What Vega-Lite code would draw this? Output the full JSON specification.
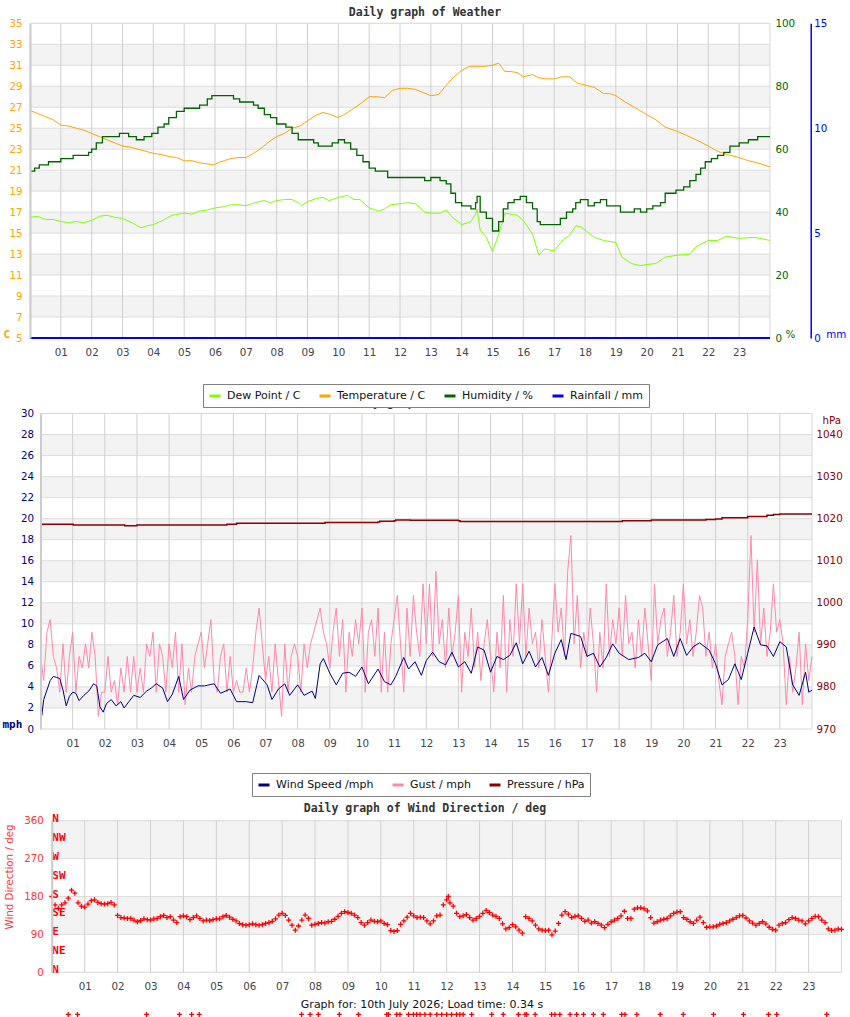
{
  "$schema": "https://vega.github.io/schema/vega-lite/v6.json",
  "width": 850,
  "height": 1017,
  "autosize": {"type": "none"},
  "padding": 0,
  "background": "#ffffff",
  "config": {
    "view": {"stroke": null},
    "axis": {"grid": false, "ticks": false, "domain": false, "labelFont": "DejaVu Sans", "labelFontSize": 10.3, "labelOverlap": false, "labelFlush": false, "titleFont": "DejaVu Sans", "titleFontSize": 10.3, "titleFontWeight": "normal", "titlePadding": 0},
    "legend": {"orient": "none", "direction": "horizontal", "strokeColor": "#808080", "fillColor": "#ffffff", "padding": 5, "symbolType": "stroke", "symbolSize": 121, "symbolStrokeWidth": 3, "labelFont": "DejaVu Sans", "labelFontSize": 11, "labelColor": "#111111", "labelOffset": 5, "columnPadding": 12, "symbolOpacity": 1}
  },
  "datasets": {
    "hours": [{"h":1},{"h":2},{"h":3},{"h":4},{"h":5},{"h":6},{"h":7},{"h":8},{"h":9},{"h":10},{"h":11},{"h":12},{"h":13},{"h":14},{"h":15},{"h":16},{"h":17},{"h":18},{"h":19},{"h":20},{"h":21},{"h":22},{"h":23}],
    "temp": [{"h":0,"v":26.7},{"h":0.25,"v":26.4},{"h":0.5,"v":26.1},{"h":0.75,"v":25.8},{"h":1,"v":25.3},{"h":1.25,"v":25.2},{"h":1.5,"v":25.0},{"h":1.75,"v":24.8},{"h":2,"v":24.5},{"h":2.25,"v":24.2},{"h":2.5,"v":23.9},{"h":2.75,"v":23.6},{"h":3,"v":23.3},{"h":3.25,"v":23.2},{"h":3.5,"v":23.0},{"h":3.75,"v":22.8},{"h":4,"v":22.6},{"h":4.25,"v":22.5},{"h":4.5,"v":22.3},{"h":4.75,"v":22.2},{"h":5,"v":21.9},{"h":5.25,"v":21.9},{"h":5.5,"v":21.7},{"h":5.75,"v":21.6},{"h":5.95,"v":21.5},{"h":6.1,"v":21.7},{"h":6.3,"v":21.9},{"h":6.5,"v":22.1},{"h":6.75,"v":22.2},{"h":7,"v":22.2},{"h":7.25,"v":22.6},{"h":7.5,"v":23.1},{"h":7.75,"v":23.7},{"h":8,"v":24.2},{"h":8.25,"v":24.5},{"h":8.5,"v":25.0},{"h":8.75,"v":25.2},{"h":9,"v":25.7},{"h":9.25,"v":26.2},{"h":9.5,"v":26.5},{"h":9.75,"v":26.3},{"h":10,"v":26.0},{"h":10.25,"v":26.4},{"h":10.5,"v":26.9},{"h":10.75,"v":27.4},{"h":11,"v":28.0},{"h":11.25,"v":28.0},{"h":11.5,"v":27.9},{"h":11.75,"v":28.6},{"h":12,"v":28.8},{"h":12.25,"v":28.8},{"h":12.5,"v":28.7},{"h":12.75,"v":28.4},{"h":13,"v":28.1},{"h":13.25,"v":28.2},{"h":13.5,"v":29.1},{"h":13.75,"v":29.9},{"h":14,"v":30.5},{"h":14.25,"v":30.9},{"h":14.5,"v":30.9},{"h":14.75,"v":30.9},{"h":15,"v":31.0},{"h":15.2,"v":31.2},{"h":15.4,"v":30.4},{"h":15.6,"v":30.4},{"h":15.8,"v":30.3},{"h":16,"v":29.9},{"h":16.3,"v":30.1},{"h":16.5,"v":29.8},{"h":16.75,"v":29.7},{"h":17,"v":29.7},{"h":17.25,"v":29.9},{"h":17.5,"v":29.9},{"h":17.75,"v":29.3},{"h":18,"v":29.1},{"h":18.3,"v":28.9},{"h":18.6,"v":28.3},{"h":18.8,"v":28.3},{"h":19,"v":28.1},{"h":19.3,"v":27.5},{"h":19.6,"v":27.0},{"h":20,"v":26.3},{"h":20.3,"v":25.8},{"h":20.6,"v":25.1},{"h":21,"v":24.7},{"h":21.3,"v":24.3},{"h":21.6,"v":23.9},{"h":22,"v":23.3},{"h":22.3,"v":22.8},{"h":22.6,"v":22.5},{"h":23,"v":22.2},{"h":23.3,"v":21.9},{"h":23.6,"v":21.7},{"h":24,"v":21.3}],
    "dew": [{"h":0,"v":16.5},{"h":0.25,"v":16.6},{"h":0.5,"v":16.3},{"h":0.75,"v":16.3},{"h":1,"v":16.1},{"h":1.25,"v":16.0},{"h":1.5,"v":16.1},{"h":1.75,"v":16.0},{"h":2,"v":16.2},{"h":2.25,"v":16.6},{"h":2.5,"v":16.7},{"h":2.75,"v":16.5},{"h":3,"v":16.4},{"h":3.3,"v":16.0},{"h":3.6,"v":15.5},{"h":3.8,"v":15.7},{"h":4,"v":15.8},{"h":4.3,"v":16.2},{"h":4.6,"v":16.7},{"h":5,"v":16.9},{"h":5.25,"v":16.8},{"h":5.5,"v":17.1},{"h":5.75,"v":17.2},{"h":6,"v":17.4},{"h":6.25,"v":17.5},{"h":6.5,"v":17.7},{"h":6.75,"v":17.7},{"h":7,"v":17.6},{"h":7.3,"v":17.9},{"h":7.6,"v":18.1},{"h":7.8,"v":17.9},{"h":8,"v":18.1},{"h":8.25,"v":18.2},{"h":8.5,"v":18.2},{"h":8.7,"v":17.9},{"h":8.8,"v":17.6},{"h":9,"v":18.0},{"h":9.3,"v":18.3},{"h":9.5,"v":18.4},{"h":9.7,"v":18.1},{"h":10,"v":18.4},{"h":10.3,"v":18.6},{"h":10.5,"v":18.2},{"h":10.7,"v":18.2},{"h":11,"v":17.4},{"h":11.3,"v":17.1},{"h":11.5,"v":17.3},{"h":11.7,"v":17.7},{"h":12,"v":17.8},{"h":12.25,"v":17.9},{"h":12.5,"v":17.8},{"h":12.8,"v":17.0},{"h":13,"v":16.9},{"h":13.3,"v":16.9},{"h":13.5,"v":17.2},{"h":13.7,"v":16.5},{"h":14,"v":15.8},{"h":14.3,"v":16.1},{"h":14.45,"v":16.8},{"h":14.5,"v":17.3},{"h":14.6,"v":15.3},{"h":14.8,"v":14.6},{"h":15,"v":13.2},{"h":15.2,"v":14.9},{"h":15.4,"v":16.9},{"h":15.6,"v":16.8},{"h":15.8,"v":16.7},{"h":16,"v":16.2},{"h":16.3,"v":14.9},{"h":16.5,"v":12.9},{"h":16.7,"v":13.5},{"h":17,"v":13.3},{"h":17.3,"v":14.4},{"h":17.5,"v":14.8},{"h":17.7,"v":15.7},{"h":17.85,"v":15.6},{"h":18,"v":15.3},{"h":18.3,"v":14.6},{"h":18.6,"v":14.3},{"h":19,"v":14.1},{"h":19.2,"v":12.7},{"h":19.5,"v":12.1},{"h":19.8,"v":11.9},{"h":20,"v":12.0},{"h":20.3,"v":12.1},{"h":20.6,"v":12.7},{"h":21,"v":12.9},{"h":21.4,"v":13.0},{"h":21.6,"v":13.7},{"h":22,"v":14.3},{"h":22.3,"v":14.3},{"h":22.6,"v":14.7},{"h":23,"v":14.5},{"h":23.5,"v":14.6},{"h":24,"v":14.3}],
    "hum": [{"h":0,"v":53},{"h":0.15,"v":54},{"h":0.3,"v":55},{"h":0.6,"v":56},{"h":1.0,"v":57},{"h":1.4,"v":58},{"h":1.9,"v":59},{"h":2.0,"v":60},{"h":2.15,"v":62},{"h":2.35,"v":64},{"h":2.9,"v":65},{"h":3.2,"v":64},{"h":3.45,"v":63},{"h":3.7,"v":64},{"h":3.95,"v":65},{"h":4.15,"v":67},{"h":4.35,"v":68},{"h":4.5,"v":70},{"h":4.75,"v":72},{"h":5.0,"v":73},{"h":5.5,"v":74},{"h":5.75,"v":76},{"h":5.9,"v":77},{"h":6.6,"v":76},{"h":6.8,"v":75},{"h":7.25,"v":74},{"h":7.4,"v":73},{"h":7.6,"v":71},{"h":7.8,"v":70},{"h":8.0,"v":68},{"h":8.3,"v":67},{"h":8.5,"v":65},{"h":8.7,"v":63},{"h":9.2,"v":62},{"h":9.35,"v":61},{"h":9.8,"v":62},{"h":10.0,"v":63},{"h":10.2,"v":62},{"h":10.4,"v":60},{"h":10.6,"v":58},{"h":10.8,"v":56},{"h":11.0,"v":54},{"h":11.2,"v":53},{"h":11.6,"v":51},{"h":12.8,"v":50},{"h":13.0,"v":51},{"h":13.3,"v":50},{"h":13.5,"v":49},{"h":13.65,"v":46},{"h":13.8,"v":43},{"h":14.0,"v":42},{"h":14.3,"v":41},{"h":14.45,"v":43},{"h":14.5,"v":45},{"h":14.6,"v":40},{"h":14.8,"v":38},{"h":15.0,"v":34},{"h":15.2,"v":37},{"h":15.35,"v":41},{"h":15.5,"v":43},{"h":15.7,"v":44},{"h":15.9,"v":45},{"h":16.1,"v":43},{"h":16.3,"v":41},{"h":16.45,"v":37},{"h":16.55,"v":36},{"h":17.2,"v":38},{"h":17.4,"v":40},{"h":17.6,"v":41},{"h":17.7,"v":43},{"h":17.85,"v":44},{"h":18.1,"v":42},{"h":18.3,"v":43},{"h":18.5,"v":44},{"h":18.7,"v":42},{"h":19.15,"v":40},{"h":19.6,"v":41},{"h":19.8,"v":40},{"h":20.0,"v":41},{"h":20.2,"v":42},{"h":20.45,"v":43},{"h":20.6,"v":46},{"h":20.95,"v":47},{"h":21.2,"v":48},{"h":21.4,"v":50},{"h":21.6,"v":52},{"h":21.75,"v":54},{"h":21.9,"v":56},{"h":22.1,"v":57},{"h":22.3,"v":58},{"h":22.5,"v":59},{"h":22.7,"v":61},{"h":23.0,"v":62},{"h":23.3,"v":63},{"h":23.6,"v":64},{"h":24,"v":64}],
    "wind": [{"h":0,"v":4.0},{"h":0.04,"v":1.3},{"h":0.1,"v":2.8},{"h":0.2,"v":3.7},{"h":0.3,"v":4.6},{"h":0.4,"v":5.0},{"h":0.5,"v":4.9},{"h":0.6,"v":4.8},{"h":0.7,"v":3.7},{"h":0.8,"v":2.2},{"h":0.9,"v":3.1},{"h":1.0,"v":3.5},{"h":1.1,"v":3.4},{"h":1.2,"v":2.7},{"h":1.35,"v":3.2},{"h":1.5,"v":3.6},{"h":1.65,"v":4.3},{"h":1.75,"v":4.1},{"h":1.85,"v":2.1},{"h":1.95,"v":1.6},{"h":2.05,"v":2.4},{"h":2.2,"v":2.8},{"h":2.35,"v":2.2},{"h":2.5,"v":2.6},{"h":2.6,"v":2.0},{"h":2.75,"v":2.6},{"h":2.9,"v":3.2},{"h":3.1,"v":3.0},{"h":3.3,"v":3.6},{"h":3.45,"v":3.9},{"h":3.6,"v":4.3},{"h":3.8,"v":3.9},{"h":3.95,"v":2.6},{"h":4.1,"v":3.3},{"h":4.3,"v":5.0},{"h":4.45,"v":2.8},{"h":4.65,"v":3.7},{"h":4.9,"v":4.1},{"h":5.1,"v":4.1},{"h":5.4,"v":4.3},{"h":5.6,"v":3.4},{"h":5.9,"v":3.8},{"h":6.1,"v":2.6},{"h":6.4,"v":2.6},{"h":6.6,"v":2.5},{"h":6.8,"v":5.1},{"h":7.05,"v":4.2},{"h":7.2,"v":2.8},{"h":7.4,"v":3.8},{"h":7.6,"v":4.3},{"h":7.75,"v":3.2},{"h":8.0,"v":4.2},{"h":8.2,"v":3.2},{"h":8.45,"v":3.6},{"h":8.55,"v":2.9},{"h":8.7,"v":6.2},{"h":8.8,"v":6.7},{"h":9.0,"v":5.3},{"h":9.2,"v":4.2},{"h":9.4,"v":5.3},{"h":9.6,"v":5.4},{"h":9.8,"v":5.0},{"h":10.0,"v":5.9},{"h":10.2,"v":4.3},{"h":10.5,"v":5.7},{"h":10.7,"v":4.5},{"h":10.9,"v":4.2},{"h":11.05,"v":5.0},{"h":11.3,"v":6.8},{"h":11.45,"v":5.7},{"h":11.65,"v":6.4},{"h":11.85,"v":5.1},{"h":12.0,"v":6.5},{"h":12.2,"v":7.3},{"h":12.4,"v":6.4},{"h":12.6,"v":6.1},{"h":12.8,"v":7.3},{"h":13.0,"v":5.9},{"h":13.2,"v":6.4},{"h":13.4,"v":5.3},{"h":13.6,"v":7.8},{"h":13.8,"v":7.5},{"h":14.0,"v":5.4},{"h":14.2,"v":6.9},{"h":14.4,"v":6.6},{"h":14.6,"v":7.0},{"h":14.8,"v":8.2},{"h":15.0,"v":6.2},{"h":15.2,"v":7.4},{"h":15.4,"v":5.9},{"h":15.6,"v":6.8},{"h":15.8,"v":5.1},{"h":16.0,"v":7.2},{"h":16.2,"v":8.5},{"h":16.35,"v":6.6},{"h":16.5,"v":9.1},{"h":16.8,"v":8.8},{"h":17.0,"v":6.9},{"h":17.2,"v":7.2},{"h":17.4,"v":5.9},{"h":17.6,"v":6.8},{"h":17.8,"v":8.1},{"h":18.0,"v":7.2},{"h":18.3,"v":6.6},{"h":18.6,"v":6.8},{"h":18.8,"v":7.2},{"h":19.0,"v":6.4},{"h":19.2,"v":8.0},{"h":19.5,"v":8.6},{"h":19.7,"v":6.9},{"h":19.9,"v":8.6},{"h":20.1,"v":7.0},{"h":20.3,"v":7.8},{"h":20.5,"v":8.2},{"h":20.8,"v":7.5},{"h":21.0,"v":6.2},{"h":21.2,"v":4.2},{"h":21.4,"v":4.7},{"h":21.6,"v":6.2},{"h":21.8,"v":4.7},{"h":22.0,"v":7.2},{"h":22.2,"v":9.7},{"h":22.4,"v":8.0},{"h":22.6,"v":7.9},{"h":22.8,"v":6.9},{"h":23.0,"v":8.3},{"h":23.2,"v":7.8},{"h":23.4,"v":4.2},{"h":23.6,"v":3.2},{"h":23.8,"v":5.4},{"h":23.9,"v":3.5},{"h":24.0,"v":3.7}],
    "gust": [{"h":0.0,"v":6.9},{"h":0.1,"v":4.6},{"h":0.2,"v":9.2},{"h":0.3,"v":10.4},{"h":0.4,"v":6.9},{"h":0.5,"v":5.8},{"h":0.6,"v":3.5},{"h":0.7,"v":8.1},{"h":0.8,"v":3.5},{"h":0.9,"v":6.9},
      {"h":1.0,"v":9.2},{"h":1.1,"v":3.5},{"h":1.2,"v":6.9},{"h":1.3,"v":5.8},{"h":1.4,"v":8.1},{"h":1.5,"v":5.8},{"h":1.6,"v":9.2},{"h":1.7,"v":6.9},{"h":1.8,"v":1.2},{"h":1.9,"v":3.5},
      {"h":2.0,"v":3.5},{"h":2.1,"v":6.9},{"h":2.2,"v":3.5},{"h":2.3,"v":4.6},{"h":2.4,"v":2.3},{"h":2.5,"v":5.8},{"h":2.6,"v":3.5},{"h":2.7,"v":6.9},{"h":2.8,"v":3.5},{"h":2.9,"v":6.9},
      {"h":3.0,"v":3.5},{"h":3.1,"v":5.8},{"h":3.2,"v":3.5},{"h":3.3,"v":8.1},{"h":3.4,"v":6.9},{"h":3.5,"v":9.2},{"h":3.6,"v":3.5},{"h":3.7,"v":8.1},{"h":3.8,"v":6.9},{"h":3.9,"v":3.5},
      {"h":4.0,"v":8.1},{"h":4.1,"v":5.8},{"h":4.2,"v":9.2},{"h":4.3,"v":3.5},{"h":4.4,"v":8.1},{"h":4.5,"v":2.3},{"h":4.6,"v":5.8},{"h":4.7,"v":3.5},{"h":4.8,"v":6.9},{"h":4.9,"v":8.1},
      {"h":5.0,"v":9.2},{"h":5.1,"v":5.8},{"h":5.2,"v":8.1},{"h":5.3,"v":10.4},{"h":5.4,"v":4.6},{"h":5.5,"v":3.5},{"h":5.6,"v":6.9},{"h":5.7,"v":8.1},{"h":5.8,"v":3.5},{"h":5.9,"v":6.9},
      {"h":6.0,"v":3.5},{"h":6.1,"v":4.6},{"h":6.2,"v":3.5},{"h":6.3,"v":3.5},{"h":6.4,"v":5.8},{"h":6.5,"v":3.5},{"h":6.6,"v":5.8},{"h":6.7,"v":9.2},{"h":6.8,"v":11.5},{"h":6.9,"v":8.1},
      {"h":7.0,"v":4.6},{"h":7.1,"v":6.9},{"h":7.2,"v":3.5},{"h":7.3,"v":8.1},{"h":7.4,"v":4.6},{"h":7.5,"v":1.2},{"h":7.6,"v":8.1},{"h":7.7,"v":3.5},{"h":7.8,"v":6.9},{"h":7.9,"v":8.1},
      {"h":8.0,"v":6.9},{"h":8.1,"v":3.5},{"h":8.2,"v":8.1},{"h":8.3,"v":5.8},{"h":8.4,"v":8.1},{"h":8.5,"v":9.2},{"h":8.6,"v":10.4},{"h":8.7,"v":11.5},{"h":8.8,"v":9.2},{"h":8.9,"v":8.1},
      {"h":9.0,"v":5.8},{"h":9.1,"v":9.2},{"h":9.2,"v":11.5},{"h":9.3,"v":6.9},{"h":9.4,"v":10.4},{"h":9.5,"v":3.5},{"h":9.6,"v":9.2},{"h":9.7,"v":6.9},{"h":9.8,"v":10.4},{"h":9.9,"v":8.1},
      {"h":10.0,"v":11.5},{"h":10.1,"v":3.5},{"h":10.2,"v":9.2},{"h":10.3,"v":10.4},{"h":10.4,"v":6.9},{"h":10.5,"v":11.5},{"h":10.6,"v":3.5},{"h":10.7,"v":9.2},{"h":10.8,"v":3.5},{"h":10.9,"v":8.1},
      {"h":11.0,"v":10.4},{"h":11.1,"v":12.7},{"h":11.2,"v":8.1},{"h":11.3,"v":3.5},{"h":11.4,"v":11.5},{"h":11.5,"v":6.9},{"h":11.6,"v":12.7},{"h":11.7,"v":9.2},{"h":11.8,"v":6.9},{"h":11.9,"v":13.8},
      {"h":12.0,"v":8.1},{"h":12.1,"v":13.8},{"h":12.2,"v":6.9},{"h":12.3,"v":15.0},{"h":12.4,"v":8.1},{"h":12.5,"v":10.4},{"h":12.6,"v":5.8},{"h":12.7,"v":11.5},{"h":12.8,"v":6.9},{"h":12.9,"v":9.2},
      {"h":13.0,"v":12.7},{"h":13.1,"v":3.5},{"h":13.2,"v":9.2},{"h":13.3,"v":6.9},{"h":13.4,"v":11.5},{"h":13.5,"v":5.8},{"h":13.6,"v":9.2},{"h":13.7,"v":4.6},{"h":13.8,"v":8.1},{"h":13.9,"v":10.4},
      {"h":14.0,"v":6.9},{"h":14.1,"v":3.5},{"h":14.2,"v":9.2},{"h":14.3,"v":5.8},{"h":14.4,"v":12.7},{"h":14.5,"v":3.5},{"h":14.6,"v":10.4},{"h":14.7,"v":6.9},{"h":14.8,"v":13.8},{"h":14.9,"v":8.1},
      {"h":15.0,"v":13.8},{"h":15.1,"v":6.9},{"h":15.2,"v":11.5},{"h":15.3,"v":8.1},{"h":15.4,"v":9.2},{"h":15.5,"v":5.8},{"h":15.6,"v":10.4},{"h":15.7,"v":6.9},{"h":15.8,"v":3.5},{"h":15.9,"v":8.1},
      {"h":16.0,"v":13.8},{"h":16.1,"v":9.2},{"h":16.2,"v":11.5},{"h":16.3,"v":6.9},{"h":16.4,"v":15.0},{"h":16.5,"v":18.4},{"h":16.6,"v":8.1},{"h":16.7,"v":12.7},{"h":16.8,"v":5.8},{"h":16.9,"v":9.2},
      {"h":17.0,"v":6.9},{"h":17.1,"v":11.5},{"h":17.2,"v":8.1},{"h":17.3,"v":3.5},{"h":17.4,"v":9.2},{"h":17.5,"v":5.8},{"h":17.6,"v":13.8},{"h":17.7,"v":6.9},{"h":17.8,"v":10.4},{"h":17.9,"v":8.1},
      {"h":18.0,"v":11.5},{"h":18.1,"v":6.9},{"h":18.2,"v":12.7},{"h":18.3,"v":8.1},{"h":18.4,"v":9.2},{"h":18.5,"v":5.8},{"h":18.6,"v":10.4},{"h":18.7,"v":6.9},{"h":18.8,"v":11.5},{"h":18.9,"v":8.1},
      {"h":19.0,"v":4.6},{"h":19.1,"v":13.8},{"h":19.2,"v":8.1},{"h":19.3,"v":10.4},{"h":19.4,"v":11.5},{"h":19.5,"v":6.9},{"h":19.6,"v":9.2},{"h":19.7,"v":12.7},{"h":19.8,"v":6.9},{"h":19.9,"v":9.2},
      {"h":20.0,"v":13.8},{"h":20.1,"v":8.1},{"h":20.2,"v":10.4},{"h":20.3,"v":6.9},{"h":20.4,"v":9.2},{"h":20.5,"v":12.7},{"h":20.6,"v":11.5},{"h":20.7,"v":6.9},{"h":20.8,"v":9.2},{"h":20.9,"v":5.8},
      {"h":21.0,"v":8.1},{"h":21.1,"v":4.6},{"h":21.2,"v":2.3},{"h":21.3,"v":6.9},{"h":21.4,"v":8.1},{"h":21.5,"v":9.2},{"h":21.6,"v":6.9},{"h":21.7,"v":2.3},{"h":21.8,"v":6.9},{"h":21.9,"v":5.8},
      {"h":22.0,"v":10.4},{"h":22.1,"v":18.4},{"h":22.2,"v":9.2},{"h":22.3,"v":16.1},{"h":22.4,"v":8.1},{"h":22.5,"v":11.5},{"h":22.6,"v":6.9},{"h":22.7,"v":9.2},{"h":22.8,"v":13.8},{"h":22.9,"v":9.2},
      {"h":23.0,"v":10.4},{"h":23.1,"v":8.1},{"h":23.2,"v":2.3},{"h":23.3,"v":6.9},{"h":23.4,"v":3.5},{"h":23.5,"v":5.8},{"h":23.6,"v":9.2},{"h":23.7,"v":2.3},{"h":23.8,"v":8.1},{"h":23.9,"v":4.6},{"h":24.0,"v":6.9}],
    "pres": [{"h":0,"v":1018.6},{"h":0.08,"v":1018.7},{"h":1.0,"v":1018.7},{"h":1.02,"v":1018.5},{"h":2.6,"v":1018.5},{"h":2.62,"v":1018.3},{"h":2.95,"v":1018.3},{"h":3.0,"v":1018.5},{"h":5.6,"v":1018.5},{"h":5.8,"v":1018.7},{"h":6.0,"v":1018.7},{"h":6.1,"v":1018.9},{"h":8.8,"v":1018.9},{"h":8.85,"v":1019.1},{"h":10.5,"v":1019.2},{"h":10.55,"v":1019.4},{"h":11.0,"v":1019.5},{"h":11.05,"v":1019.7},{"h":11.4,"v":1019.7},{"h":11.5,"v":1019.6},{"h":12.0,"v":1019.6},{"h":13.0,"v":1019.5},{"h":13.05,"v":1019.3},{"h":18.0,"v":1019.3},{"h":18.1,"v":1019.5},{"h":19.0,"v":1019.7},{"h":20.5,"v":1019.7},{"h":20.7,"v":1019.8},{"h":21.0,"v":1019.9},{"h":21.2,"v":1020.2},{"h":22.0,"v":1020.5},{"h":22.6,"v":1020.8},{"h":22.8,"v":1021.0},{"h":23.0,"v":1021.1},{"h":24.0,"v":1021.1}],
    "dir": [{"h":0.0,"d":180},{"h":0.1,"d":160},{"h":0.2,"d":152},{"h":0.3,"d":160},{"h":0.4,"d":165},{"h":0.5,"d":176},{"h":0.6,"d":195},{"h":0.7,"d":188},{"h":0.8,"d":165},{"h":0.9,"d":157},
      {"h":1.0,"d":155},{"h":1.1,"d":162},{"h":1.2,"d":170},{"h":1.3,"d":172},{"h":1.4,"d":166},{"h":1.5,"d":163},{"h":1.6,"d":162},{"h":1.7,"d":163},{"h":1.8,"d":166},{"h":1.9,"d":160},
      {"h":2.0,"d":135},{"h":2.1,"d":130},{"h":2.2,"d":129},{"h":2.3,"d":128},{"h":2.4,"d":128},{"h":2.5,"d":124},{"h":2.6,"d":120},{"h":2.7,"d":123},{"h":2.8,"d":127},{"h":2.9,"d":125},
      {"h":3.0,"d":124},{"h":3.1,"d":127},{"h":3.2,"d":128},{"h":3.3,"d":132},{"h":3.4,"d":135},{"h":3.5,"d":130},{"h":3.6,"d":132},{"h":3.7,"d":124},{"h":3.8,"d":118},{"h":3.9,"d":132},
      {"h":4.0,"d":134},{"h":4.1,"d":132},{"h":4.2,"d":125},{"h":4.3,"d":130},{"h":4.4,"d":134},{"h":4.5,"d":128},{"h":4.6,"d":122},{"h":4.7,"d":124},{"h":4.8,"d":123},{"h":4.9,"d":125},
      {"h":5.0,"d":127},{"h":5.1,"d":127},{"h":5.2,"d":132},{"h":5.3,"d":135},{"h":5.4,"d":131},{"h":5.5,"d":126},{"h":5.6,"d":122},{"h":5.7,"d":116},{"h":5.8,"d":113},{"h":5.9,"d":112},
      {"h":6.0,"d":113},{"h":6.1,"d":115},{"h":6.2,"d":113},{"h":6.3,"d":112},{"h":6.4,"d":113},{"h":6.5,"d":116},{"h":6.6,"d":118},{"h":6.7,"d":121},{"h":6.8,"d":127},{"h":6.9,"d":136},
      {"h":7.0,"d":140},{"h":7.1,"d":135},{"h":7.2,"d":124},{"h":7.3,"d":112},{"h":7.4,"d":100},{"h":7.5,"d":110},{"h":7.6,"d":124},{"h":7.7,"d":136},{"h":7.8,"d":128},{"h":7.9,"d":112},
      {"h":8.0,"d":114},{"h":8.1,"d":116},{"h":8.2,"d":118},{"h":8.3,"d":117},{"h":8.4,"d":120},{"h":8.5,"d":121},{"h":8.6,"d":126},{"h":8.7,"d":133},{"h":8.8,"d":140},{"h":8.9,"d":144},
      {"h":9.0,"d":142},{"h":9.1,"d":140},{"h":9.2,"d":136},{"h":9.3,"d":130},{"h":9.4,"d":118},{"h":9.5,"d":112},{"h":9.6,"d":118},{"h":9.7,"d":124},{"h":9.8,"d":121},{"h":9.9,"d":120},
      {"h":10.0,"d":122},{"h":10.1,"d":116},{"h":10.2,"d":113},{"h":10.3,"d":99},{"h":10.4,"d":97},{"h":10.5,"d":99},{"h":10.6,"d":114},{"h":10.7,"d":122},{"h":10.8,"d":131},{"h":10.9,"d":140},
      {"h":11.0,"d":134},{"h":11.1,"d":130},{"h":11.2,"d":131},{"h":11.3,"d":130},{"h":11.4,"d":122},{"h":11.5,"d":115},{"h":11.6,"d":122},{"h":11.7,"d":134},{"h":11.8,"d":136},{"h":11.9,"d":160},
      {"h":12.0,"d":172},{"h":12.05,"d":180},{"h":12.1,"d":165},{"h":12.2,"d":157},{"h":12.3,"d":140},{"h":12.4,"d":132},{"h":12.5,"d":134},{"h":12.6,"d":137},{"h":12.7,"d":130},{"h":12.8,"d":124},{"h":12.9,"d":128},
      {"h":13.0,"d":133},{"h":13.1,"d":140},{"h":13.2,"d":147},{"h":13.3,"d":142},{"h":13.4,"d":136},{"h":13.5,"d":133},{"h":13.6,"d":128},{"h":13.7,"d":115},{"h":13.8,"d":103},{"h":13.9,"d":106},
      {"h":14.0,"d":113},{"h":14.1,"d":108},{"h":14.2,"d":100},{"h":14.3,"d":93},{"h":14.4,"d":132},{"h":14.5,"d":128},{"h":14.6,"d":122},{"h":14.7,"d":112},{"h":14.8,"d":103},{"h":14.9,"d":100},
      {"h":15.0,"d":99},{"h":15.1,"d":100},{"h":15.2,"d":89},{"h":15.3,"d":98},{"h":15.4,"d":116},{"h":15.5,"d":136},{"h":15.6,"d":144},{"h":15.7,"d":138},{"h":15.8,"d":130},{"h":15.9,"d":133},
      {"h":16.0,"d":134},{"h":16.1,"d":128},{"h":16.2,"d":121},{"h":16.3,"d":124},{"h":16.4,"d":117},{"h":16.5,"d":120},{"h":16.6,"d":116},{"h":16.7,"d":112},{"h":16.8,"d":106},{"h":16.9,"d":114},
      {"h":17.0,"d":120},{"h":17.1,"d":124},{"h":17.2,"d":128},{"h":17.3,"d":134},{"h":17.4,"d":145},{"h":17.5,"d":128},{"h":17.6,"d":128},{"h":17.7,"d":150},{"h":17.8,"d":153},{"h":17.9,"d":153},
      {"h":18.0,"d":151},{"h":18.1,"d":146},{"h":18.2,"d":130},{"h":18.3,"d":117},{"h":18.4,"d":120},{"h":18.5,"d":124},{"h":18.6,"d":126},{"h":18.7,"d":128},{"h":18.8,"d":134},{"h":18.9,"d":140},
      {"h":19.0,"d":143},{"h":19.1,"d":144},{"h":19.2,"d":130},{"h":19.3,"d":126},{"h":19.4,"d":120},{"h":19.5,"d":116},{"h":19.6,"d":124},{"h":19.7,"d":131},{"h":19.8,"d":118},{"h":19.9,"d":107},
      {"h":20.0,"d":108},{"h":20.1,"d":108},{"h":20.2,"d":110},{"h":20.3,"d":114},{"h":20.4,"d":116},{"h":20.5,"d":118},{"h":20.6,"d":122},{"h":20.7,"d":126},{"h":20.8,"d":130},{"h":20.9,"d":134},
      {"h":21.0,"d":135},{"h":21.1,"d":129},{"h":21.2,"d":122},{"h":21.3,"d":117},{"h":21.4,"d":112},{"h":21.5,"d":116},{"h":21.6,"d":120},{"h":21.7,"d":115},{"h":21.8,"d":107},{"h":21.9,"d":102},
      {"h":22.0,"d":100},{"h":22.1,"d":112},{"h":22.2,"d":116},{"h":22.3,"d":118},{"h":22.4,"d":125},{"h":22.5,"d":130},{"h":22.6,"d":128},{"h":22.7,"d":124},{"h":22.8,"d":122},{"h":22.9,"d":115},
      {"h":23.0,"d":122},{"h":23.1,"d":128},{"h":23.2,"d":133},{"h":23.3,"d":132},{"h":23.4,"d":124},{"h":23.5,"d":118},{"h":23.6,"d":103},{"h":23.7,"d":99},{"h":23.8,"d":100},{"h":23.9,"d":103},{"h":24.0,"d":102},
      {"h":0.5,"d":-100},{"h":0.78,"d":-100},{"h":2.88,"d":-100},{"h":3.88,"d":-100},{"h":4.25,"d":-100},{"h":4.48,"d":-100},{"h":7.59,"d":-100},{"h":7.85,"d":-100},{"h":8.1,"d":-100},{"h":8.74,"d":-100},{"h":9.32,"d":-100},{"h":10.18,"d":-100},{"h":10.23,"d":-100},{"h":10.48,"d":-100},{"h":10.58,"d":-100},{"h":10.84,"d":-100},{"h":10.99,"d":-100},{"h":11.09,"d":-100},{"h":11.19,"d":-100},{"h":11.34,"d":-100},{"h":11.5,"d":-100},{"h":11.7,"d":-100},{"h":11.85,"d":-100},{"h":12.0,"d":-100},{"h":12.15,"d":-100},{"h":12.3,"d":-100},{"h":12.4,"d":-100},{"h":12.5,"d":-100},{"h":12.76,"d":-100},{"h":13.37,"d":-100},{"h":13.72,"d":-100},{"h":14.18,"d":-100},{"h":14.38,"d":-100},{"h":14.43,"d":-100},{"h":14.69,"d":-100},{"h":15.19,"d":-100},{"h":15.29,"d":-100},{"h":15.44,"d":-100},{"h":15.75,"d":-100},{"h":15.95,"d":-100},{"h":16.16,"d":-100},{"h":16.46,"d":-100},{"h":16.76,"d":-100},{"h":17.32,"d":-100},{"h":17.42,"d":-100},{"h":17.78,"d":-100},{"h":18.49,"d":-100},{"h":19.19,"d":-100},{"h":20.11,"d":-100},{"h":21.02,"d":-100},{"h":21.78,"d":-100},{"h":22.03,"d":-100},{"h":23.55,"d":-100}]
  },
  "layer": [
    {
      "layer": [
        {
          "data": {"values": [{"lo":7,"hi":9},{"lo":11,"hi":13},{"lo":15,"hi":17},{"lo":19,"hi":21},{"lo":23,"hi":25},{"lo":27,"hi":29},{"lo":31,"hi":33}]},
          "mark": {"type": "rect", "color": "#f3f3f3"},
          "encoding": {
            "x": {"datum": 0, "type": "quantitative", "scale": {"domain": [0,24], "range": [30,770], "nice": false, "zero": false}, "axis": null},
            "x2": {"datum": 24},
            "y": {"field": "lo", "type": "quantitative", "scale": {"domain": [5,35], "range": [338,23.3], "nice": false, "zero": false}, "axis": null},
            "y2": {"field": "hi"}
          }
        },
        {
          "data": {"values": [{"v":7},{"v":9},{"v":11},{"v":13},{"v":15},{"v":17},{"v":19},{"v":21},{"v":23},{"v":25},{"v":27},{"v":29},{"v":31},{"v":33}]},
          "mark": {"type": "rule", "color": "#dddddd"},
          "encoding": {
            "x": {"datum": 0, "type": "quantitative", "scale": {"domain": [0,24], "range": [30,770], "nice": false, "zero": false}, "axis": null},
            "x2": {"datum": 24},
            "y": {"field": "v", "type": "quantitative", "scale": {"domain": [5,35], "range": [338,23.3], "nice": false, "zero": false},
              "axis": {"orient": "left", "offset": -30, "values": [5,7,9,11,13,15,17,19,21,23,25,27,29,31,33,35], "labelColor": "#ffa500", "labelPadding": 8, "domain": true, "domainColor": "#cccccc", "domainWidth": 2, "zindex": 1, "title": "C", "titleAngle": 0, "titleX": -27, "titleY": 337, "titleAlign": "left", "titleBaseline": "alphabetic", "titleColor": "#ffa500", "titleFont": "DejaVu Sans Mono", "titleFontWeight": "bold", "titleFontSize": 11}}
          }
        },
        {
          "data": {"name": "hours"},
          "mark": {"type": "rule", "color": "#d0d0d0"},
          "encoding": {
            "x": {"field": "h", "type": "quantitative", "scale": {"domain": [0,24], "range": [30,770], "nice": false, "zero": false},
              "axis": {"orient": "bottom", "offset": -679, "values": [1,2,3,4,5,6,7,8,9,10,11,12,13,14,15,16,17,18,19,20,21,22,23], "labelExpr": "datum.value < 10 ? '0' + datum.value : '' + datum.value", "labelColor": "#444444", "labelPadding": 9, "title": null}},
            "y": {"datum": 5, "type": "quantitative", "scale": {"domain": [5,35], "range": [338,23.3], "nice": false, "zero": false}, "axis": null},
            "y2": {"datum": 35}
          }
        },
        {
          "data": {"values": [{}]},
          "mark": {"type": "rect", "fill": "transparent", "stroke": "#d8d8d8", "strokeWidth": 1},
          "encoding": {
            "x": {"datum": 0, "type": "quantitative", "scale": {"domain": [0,24], "range": [30,770], "nice": false, "zero": false}, "axis": null},
            "x2": {"datum": 24},
            "y": {"datum": 5, "type": "quantitative", "scale": {"domain": [5,35], "range": [338,23.3], "nice": false, "zero": false}, "axis": null},
            "y2": {"datum": 35}
          }
        },
        {
          "data": {"name": "dew"},
          "mark": {"type": "line", "strokeWidth": 1},
          "encoding": {
            "x": {"field": "h", "type": "quantitative", "scale": {"domain": [0,24], "range": [30,770], "nice": false, "zero": false}, "axis": null},
            "y": {"field": "v", "type": "quantitative", "scale": {"domain": [5,35], "range": [338,23.3], "nice": false, "zero": false}, "axis": null},
            "color": {"datum": "Dew Point / C", "type": "nominal", "scale": {"domain": ["Dew Point / C","Temperature / C","Humidity / %","Rainfall / mm"], "range": ["#7fff00","#ffa500","#006400","#0000ff"]},
              "legend": {"legendX": 203, "legendY": 384, "title": null}}
          }
        },
        {
          "data": {"name": "temp"},
          "mark": {"type": "line", "strokeWidth": 1},
          "encoding": {
            "x": {"field": "h", "type": "quantitative", "scale": {"domain": [0,24], "range": [30,770], "nice": false, "zero": false}, "axis": null},
            "y": {"field": "v", "type": "quantitative", "scale": {"domain": [5,35], "range": [338,23.3], "nice": false, "zero": false}, "axis": null},
            "color": {"datum": "Temperature / C", "type": "nominal", "scale": {"domain": ["Dew Point / C","Temperature / C","Humidity / %","Rainfall / mm"], "range": ["#7fff00","#ffa500","#006400","#0000ff"]}, "legend": null}
          }
        },
        {
          "data": {"name": "hum"},
          "mark": {"type": "line", "strokeWidth": 1.3, "interpolate": "step-after"},
          "encoding": {
            "x": {"field": "h", "type": "quantitative", "scale": {"domain": [0,24], "range": [30,770], "nice": false, "zero": false}, "axis": null},
            "y": {"field": "v", "type": "quantitative", "scale": {"domain": [0,100], "range": [338,23.3], "nice": false, "zero": false},
              "axis": {"orient": "right", "offset": -80, "values": [0,20,40,60,80,100], "labelColor": "#006400", "labelPadding": 5, "title": "%", "titleAngle": 0, "titleX": 15, "titleY": 337, "titleAlign": "left", "titleBaseline": "alphabetic", "titleColor": "#006400"}},
            "color": {"datum": "Humidity / %", "type": "nominal", "scale": {"domain": ["Dew Point / C","Temperature / C","Humidity / %","Rainfall / mm"], "range": ["#7fff00","#ffa500","#006400","#0000ff"]}, "legend": null}
          }
        },
        {
          "data": {"values": [{"h":0,"v":0},{"h":24,"v":0}]},
          "mark": {"type": "line", "strokeWidth": 2},
          "encoding": {
            "x": {"field": "h", "type": "quantitative", "scale": {"domain": [0,24], "range": [30,770], "nice": false, "zero": false}, "axis": null},
            "y": {"field": "v", "type": "quantitative", "scale": {"domain": [0,15], "range": [338,23.3], "nice": false, "zero": false},
              "axis": {"orient": "right", "offset": -39.3, "values": [0,5,10,15], "labelColor": "#0000ff", "labelPadding": 3, "domain": true, "domainColor": "#0000ff", "domainWidth": 1.5, "title": "mm", "titleAngle": 0, "titleX": 15, "titleY": 337, "titleAlign": "left", "titleBaseline": "alphabetic", "titleColor": "#0000ff"}},
            "color": {"datum": "Rainfall / mm", "type": "nominal", "scale": {"domain": ["Dew Point / C","Temperature / C","Humidity / %","Rainfall / mm"], "range": ["#7fff00","#ffa500","#006400","#0000ff"]}, "legend": null}
          }
        },
        {
          "data": {"values": [{"t": "Daily graph of Weather"}]},
          "mark": {"type": "text", "font": "DejaVu Sans Mono", "fontWeight": "bold", "fontSize": 11.5, "color": "#333333", "align": "center", "baseline": "middle"},
          "encoding": {
            "x": {"datum": 12.81, "type": "quantitative", "scale": {"domain": [0,24], "range": [30,770], "nice": false, "zero": false}, "axis": null},
            "y": {"datum": 35.95, "type": "quantitative", "scale": {"domain": [5,35], "range": [338,23.3], "nice": false, "zero": false}, "axis": null},
            "text": {"field": "t"}
          }
        }
      ],
      "resolve": {"scale": {"y": "independent"}, "axis": {"x": "independent"}}
    },
    {
      "layer": [
        {
          "data": {"values": [{"lo":2,"hi":4},{"lo":6,"hi":8},{"lo":10,"hi":12},{"lo":14,"hi":16},{"lo":18,"hi":20},{"lo":22,"hi":24},{"lo":26,"hi":28}]},
          "mark": {"type": "rect", "color": "#f3f3f3"},
          "encoding": {
            "x": {"datum": 0, "type": "quantitative", "scale": {"domain": [0,24], "range": [40.5,812], "nice": false, "zero": false}, "axis": null},
            "x2": {"datum": 24},
            "y": {"field": "lo", "type": "quantitative", "scale": {"domain": [0,30], "range": [729,413.5], "nice": false, "zero": false}, "axis": null},
            "y2": {"field": "hi"}
          }
        },
        {
          "data": {"values": [{"v":2},{"v":4},{"v":6},{"v":8},{"v":10},{"v":12},{"v":14},{"v":16},{"v":18},{"v":20},{"v":22},{"v":24},{"v":26},{"v":28}]},
          "mark": {"type": "rule", "color": "#dddddd"},
          "encoding": {
            "x": {"datum": 0, "type": "quantitative", "scale": {"domain": [0,24], "range": [40.5,812], "nice": false, "zero": false}, "axis": null},
            "x2": {"datum": 24},
            "y": {"field": "v", "type": "quantitative", "scale": {"domain": [0,30], "range": [729,413.5], "nice": false, "zero": false},
              "axis": {"orient": "left", "offset": -40.5, "values": [0,2,4,6,8,10,12,14,16,18,20,22,24,26,28,30], "labelColor": "#000080", "labelPadding": 7, "domain": true, "domainColor": "#cccccc", "domainWidth": 2, "zindex": 1, "title": "mph", "titleAngle": 0, "titleX": -38.5, "titleY": 727, "titleAlign": "left", "titleBaseline": "alphabetic", "titleColor": "#000080", "titleFont": "DejaVu Sans Mono", "titleFontWeight": "bold", "titleFontSize": 11}}
          }
        },
        {
          "data": {"name": "hours"},
          "mark": {"type": "rule", "color": "#d0d0d0"},
          "encoding": {
            "x": {"field": "h", "type": "quantitative", "scale": {"domain": [0,24], "range": [40.5,812], "nice": false, "zero": false},
              "axis": {"orient": "bottom", "offset": -288, "values": [1,2,3,4,5,6,7,8,9,10,11,12,13,14,15,16,17,18,19,20,21,22,23], "labelExpr": "datum.value < 10 ? '0' + datum.value : '' + datum.value", "labelColor": "#444444", "labelPadding": 9, "title": null}},
            "y": {"datum": 0, "type": "quantitative", "scale": {"domain": [0,30], "range": [729,413.5], "nice": false, "zero": false}, "axis": null},
            "y2": {"datum": 30}
          }
        },
        {
          "data": {"values": [{}]},
          "mark": {"type": "rect", "fill": "transparent", "stroke": "#d8d8d8", "strokeWidth": 1},
          "encoding": {
            "x": {"datum": 0, "type": "quantitative", "scale": {"domain": [0,24], "range": [40.5,812], "nice": false, "zero": false}, "axis": null},
            "x2": {"datum": 24},
            "y": {"datum": 0, "type": "quantitative", "scale": {"domain": [0,30], "range": [729,413.5], "nice": false, "zero": false}, "axis": null},
            "y2": {"datum": 30}
          }
        },
        {
          "data": {"values": [{"t": "Daily graph of Pressure"}]},
          "mark": {"type": "text", "font": "DejaVu Sans Mono", "fontWeight": "bold", "fontSize": 11.5, "color": "#333333", "align": "center", "baseline": "middle"},
          "encoding": {
            "x": {"datum": 11.96, "type": "quantitative", "scale": {"domain": [0,24], "range": [40.5,812], "nice": false, "zero": false}, "axis": null},
            "y": {"datum": 31.0, "type": "quantitative", "scale": {"domain": [0,30], "range": [729,413.5], "nice": false, "zero": false}, "axis": null},
            "text": {"field": "t"}
          }
        },
        {
          "data": {"name": "gust"},
          "mark": {"type": "line", "strokeWidth": 1},
          "encoding": {
            "x": {"field": "h", "type": "quantitative", "scale": {"domain": [0,24], "range": [40.5,812], "nice": false, "zero": false}, "axis": null},
            "y": {"field": "v", "type": "quantitative", "scale": {"domain": [0,30], "range": [729,413.5], "nice": false, "zero": false}, "axis": null},
            "color": {"datum": "Gust / mph", "type": "nominal", "scale": {"domain": ["Wind Speed /mph","Gust / mph","Pressure / hPa"], "range": ["#000080","#ff88aa","#8b0000"]},
              "legend": {"legendX": 252, "legendY": 773, "title": null}}
          }
        },
        {
          "data": {"name": "wind"},
          "mark": {"type": "line", "strokeWidth": 1},
          "encoding": {
            "x": {"field": "h", "type": "quantitative", "scale": {"domain": [0,24], "range": [40.5,812], "nice": false, "zero": false}, "axis": null},
            "y": {"field": "v", "type": "quantitative", "scale": {"domain": [0,30], "range": [729,413.5], "nice": false, "zero": false}, "axis": null},
            "color": {"datum": "Wind Speed /mph", "type": "nominal", "scale": {"domain": ["Wind Speed /mph","Gust / mph","Pressure / hPa"], "range": ["#000080","#ff88aa","#8b0000"]}, "legend": null}
          }
        },
        {
          "data": {"name": "pres"},
          "mark": {"type": "line", "strokeWidth": 1.5, "interpolate": "step-after"},
          "encoding": {
            "x": {"field": "h", "type": "quantitative", "scale": {"domain": [0,24], "range": [40.5,812], "nice": false, "zero": false}, "axis": null},
            "y": {"field": "v", "type": "quantitative", "scale": {"domain": [970,1045], "range": [729,413.5], "nice": false, "zero": false},
              "axis": {"orient": "right", "offset": -38, "values": [970,980,990,1000,1010,1020,1030,1040], "format": "d", "labelColor": "#8b0000", "labelPadding": 4, "title": "hPa", "titleAngle": 0, "titleX": 10, "titleY": 423, "titleAlign": "left", "titleBaseline": "alphabetic", "titleColor": "#8b0000"}},
            "color": {"datum": "Pressure / hPa", "type": "nominal", "scale": {"domain": ["Wind Speed /mph","Gust / mph","Pressure / hPa"], "range": ["#000080","#ff88aa","#8b0000"]}, "legend": null}
          }
        }
      ],
      "resolve": {"scale": {"y": "independent"}, "axis": {"x": "independent"}}
    },
    {
      "layer": [
        {
          "data": {"values": [{"lo":90,"hi":180},{"lo":270,"hi":360}]},
          "mark": {"type": "rect", "color": "#f3f3f3"},
          "encoding": {
            "x": {"datum": 0, "type": "quantitative", "scale": {"domain": [0,24], "range": [51.8,841.5], "nice": false, "zero": false}, "axis": null},
            "x2": {"datum": 24},
            "y": {"field": "lo", "type": "quantitative", "scale": {"domain": [0,360], "range": [972.3,820.7], "nice": false, "zero": false}, "axis": null},
            "y2": {"field": "hi"}
          }
        },
        {
          "data": {"values": [{"v":90},{"v":180},{"v":270}]},
          "mark": {"type": "rule", "color": "#dddddd"},
          "encoding": {
            "x": {"datum": 0, "type": "quantitative", "scale": {"domain": [0,24], "range": [51.8,841.5], "nice": false, "zero": false}, "axis": null},
            "x2": {"datum": 24},
            "y": {"field": "v", "type": "quantitative", "scale": {"domain": [0,360], "range": [972.3,820.7], "nice": false, "zero": false},
              "axis": {"orient": "left", "offset": -51.8, "values": [0,90,180,270,360], "labelColor": "#ff3333", "labelPadding": 8.5, "domain": true, "domainColor": "#cccccc", "domainWidth": 2, "zindex": 1, "title": "Wind Direction / deg", "titleAngle": 270, "titleX": -42.8, "titleY": 876.5, "titleAlign": "center", "titleBaseline": "middle", "titleColor": "#ff3333"}}
          }
        },
        {
          "data": {"name": "hours"},
          "mark": {"type": "rule", "color": "#d0d0d0"},
          "encoding": {
            "x": {"field": "h", "type": "quantitative", "scale": {"domain": [0,24], "range": [51.8,841.5], "nice": false, "zero": false},
              "axis": {"orient": "bottom", "offset": -44.7, "values": [1,2,3,4,5,6,7,8,9,10,11,12,13,14,15,16,17,18,19,20,21,22,23], "labelExpr": "datum.value < 10 ? '0' + datum.value : '' + datum.value", "labelColor": "#444444", "labelPadding": 9, "title": null}},
            "y": {"datum": 0, "type": "quantitative", "scale": {"domain": [0,360], "range": [972.3,820.7], "nice": false, "zero": false}, "axis": null},
            "y2": {"datum": 360}
          }
        },
        {
          "data": {"values": [{}]},
          "mark": {"type": "rect", "fill": "transparent", "stroke": "#d8d8d8", "strokeWidth": 1},
          "encoding": {
            "x": {"datum": 0, "type": "quantitative", "scale": {"domain": [0,24], "range": [51.8,841.5], "nice": false, "zero": false}, "axis": null},
            "x2": {"datum": 24},
            "y": {"datum": 0, "type": "quantitative", "scale": {"domain": [0,360], "range": [972.3,820.7], "nice": false, "zero": false}, "axis": null},
            "y2": {"datum": 360}
          }
        },
        {
          "data": {"values": [{"d":360,"c":"N"},{"d":315,"c":"NW"},{"d":270,"c":"W"},{"d":225,"c":"SW"},{"d":180,"c":"S"},{"d":135,"c":"SE"},{"d":90,"c":"E"},{"d":45,"c":"NE"},{"d":0,"c":"N"}]},
          "mark": {"type": "text", "font": "DejaVu Sans Mono", "fontWeight": "bold", "fontSize": 11, "color": "#ff0000", "align": "left", "baseline": "middle", "dx": 0.5, "dy": -2},
          "encoding": {
            "x": {"datum": 0, "type": "quantitative", "scale": {"domain": [0,24], "range": [51.8,841.5], "nice": false, "zero": false}, "axis": null},
            "y": {"field": "d", "type": "quantitative", "scale": {"domain": [0,360], "range": [972.3,820.7], "nice": false, "zero": false}, "axis": null},
            "text": {"field": "c"}
          }
        },
        {
          "data": {"name": "dir"},
          "mark": {"type": "point", "shape": "M-1,0L1,0M0,-1L0,1", "size": 25, "filled": false, "stroke": "#ff0000", "strokeWidth": 1.3, "opacity": 1},
          "encoding": {
            "x": {"field": "h", "type": "quantitative", "scale": {"domain": [0,24], "range": [51.8,841.5], "nice": false, "zero": false}, "axis": null},
            "y": {"field": "d", "type": "quantitative", "scale": {"domain": [0,360], "range": [972.3,820.7], "nice": false, "zero": false}, "axis": null}
          }
        },
        {
          "data": {"values": [{"t": "Daily graph of Wind Direction / deg"}]},
          "mark": {"type": "text", "font": "DejaVu Sans Mono", "fontWeight": "bold", "fontSize": 11.5, "color": "#333333", "align": "center", "baseline": "middle"},
          "encoding": {
            "x": {"datum": 11.34, "type": "quantitative", "scale": {"domain": [0,24], "range": [51.8,841.5], "nice": false, "zero": false}, "axis": null},
            "y": {"datum": 387.8, "type": "quantitative", "scale": {"domain": [0,360], "range": [972.3,820.7], "nice": false, "zero": false}, "axis": null},
            "text": {"field": "t"}
          }
        },
        {
          "data": {"values": [{"t": "Graph for: 10th July 2026; Load time: 0.34 s"}]},
          "mark": {"type": "text", "font": "DejaVu Sans", "fontSize": 11, "color": "#111111", "align": "center", "baseline": "middle"},
          "encoding": {
            "x": {"datum": 11.25, "type": "quantitative", "scale": {"domain": [0,24], "range": [51.8,841.5], "nice": false, "zero": false}, "axis": null},
            "y": {"datum": -77.6, "type": "quantitative", "scale": {"domain": [0,360], "range": [972.3,820.7], "nice": false, "zero": false}, "axis": null},
            "text": {"field": "t"}
          }
        }
      ],
      "resolve": {"scale": {"y": "independent"}, "axis": {"x": "independent"}}
    }
  ],
  "resolve": {"scale": {"x": "independent", "y": "independent", "color": "independent"}}
}
